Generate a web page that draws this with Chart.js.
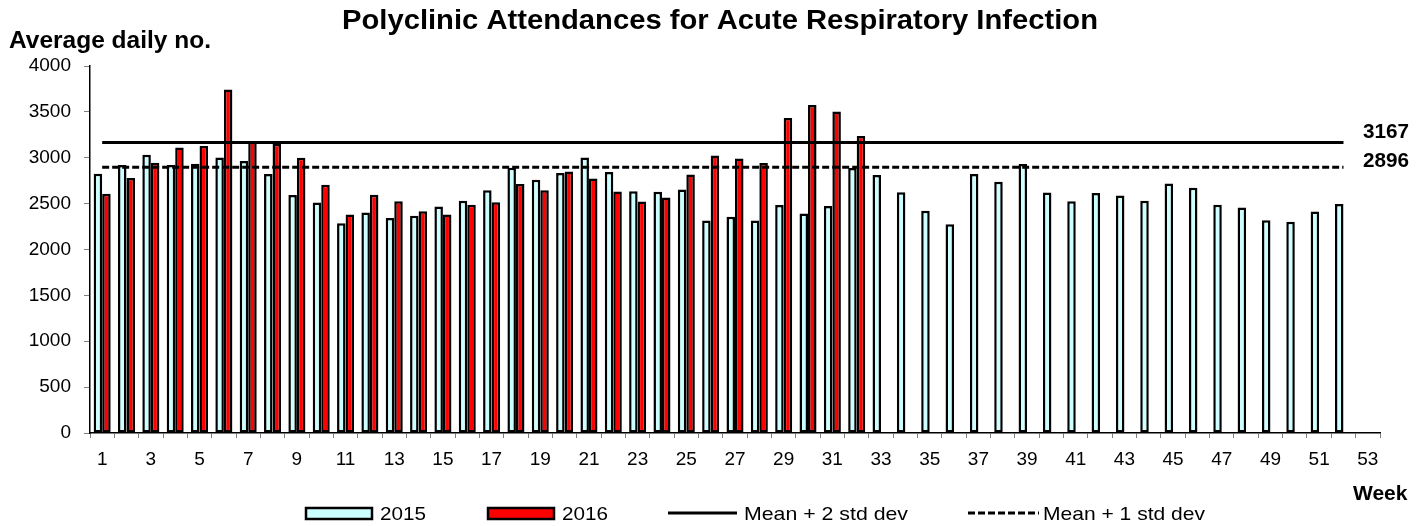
<!DOCTYPE html>
<html>
<head>
<meta charset="utf-8">
<script src="https://cdn.jsdelivr.net/npm/chart.js@4/dist/chart.umd.min.js"></script>
<style>
  html, body { margin: 0; padding: 0; background: #fff; }
  #wrap { position: relative; width: 1424px; height: 526px; }
</style>
</head>
<body>
<div id="wrap"><canvas id="chart"></canvas></div>
<script>
const weeks = ['1','2','3','4','5','6','7','8','9','10','11','12','13','14','15','16','17','18','19','20',
  '21','22','23','24','25','26','27','28','29','30','31','32','33','34','35','36','37','38','39','40',
  '41','42','43','44','45','46','47','48','49','50','51','52','53'];

const attend2015 = [2825, 2920, 3033, 2920, 2935, 3004, 2964, 2822, 2593, 2513,
  2287, 2404, 2342, 2367, 2469, 2531, 2647, 2891, 2760, 2833,
  3004, 2844, 2636, 2629, 2655, 2316, 2356, 2316, 2484, 2393,
  2473, 2887, 2811, 2625, 2422, 2276, 2822, 2738, 2931, 2622,
  2527, 2615, 2589, 2531, 2720, 2673, 2487, 2458, 2320, 2302,
  2415, 2495];

const attend2016 = [2607, 2778, 2945, 3113, 3127, 3745, 3178, 3153, 3000, 2705,
  2382, 2596, 2527, 2418, 2382, 2487, 2516, 2713, 2647, 2851,
  2775, 2633, 2524, 2567, 2818, 3025, 2993, 2942, 3433, 3575,
  3505, 3236];

const MEAN_PLUS_2SD = 3167;
const MEAN_PLUS_1SD = 2896;
const lineStart = '1';
const lineEnd = '52';

const yTicksMax = 4000;
const yTickStep = 500;

const FONT = '"Liberation Sans", Arial, sans-serif';

// draw text squeezed/stretched to a given width (the original image is a bit wide)
function fitText(ctx, text, x, y, width) {
  const w = ctx.measureText(text).width;
  ctx.save();
  ctx.translate(x, y);
  if (width) ctx.scale(width / w, 1);
  ctx.fillText(text, 0, 0);
  ctx.restore();
}

// titles, threshold labels and the legend
const decor = {
  id: 'decor',
  afterDraw(chart) {
    const ctx = chart.ctx;
    const y = chart.scales.y;
    ctx.save();
    ctx.fillStyle = '#000';
    ctx.textBaseline = 'alphabetic';
    ctx.textAlign = 'left';

    ctx.font = 'bold 27px ' + FONT;
    fitText(ctx, 'Polyclinic Attendances for Acute Respiratory Infection', 342, 28.5, 756);

    ctx.font = 'bold 24px ' + FONT;
    fitText(ctx, 'Average daily no.', 9, 48, 202);

    ctx.font = 'bold 21px ' + FONT;
    fitText(ctx, 'Week', 1353, 500);

    ctx.font = 'bold 20px ' + FONT;
    fitText(ctx, String(MEAN_PLUS_2SD), 1363, y.getPixelForValue(MEAN_PLUS_2SD) - 4, 46);
    fitText(ctx, String(MEAN_PLUS_1SD), 1363, y.getPixelForValue(MEAN_PLUS_1SD) - 0.5, 46);

    // legend
    const ly = 513;
    ctx.lineWidth = 2.5;
    ctx.strokeStyle = '#000';

    ctx.fillStyle = '#CCFFFF';
    ctx.fillRect(306, ly - 5, 66, 11);
    ctx.strokeRect(306, ly - 5, 66, 11);
    ctx.fillStyle = '#FF0000';
    ctx.fillRect(488, ly - 5, 66, 11);
    ctx.strokeRect(488, ly - 5, 66, 11);

    ctx.fillStyle = '#000';
    ctx.font = '19px ' + FONT;
    fitText(ctx, '2015', 380, 519.5, 46);
    fitText(ctx, '2016', 562, 519.5, 46);

    ctx.lineWidth = 3;
    ctx.beginPath();
    ctx.moveTo(668, ly);
    ctx.lineTo(737, ly);
    ctx.stroke();
    fitText(ctx, 'Mean + 2 std dev', 744, 519.5, 164);

    ctx.setLineDash([7, 3]);
    ctx.beginPath();
    ctx.moveTo(968, ly);
    ctx.lineTo(1039, ly);
    ctx.stroke();
    ctx.setLineDash([]);
    fitText(ctx, 'Mean + 1 std dev', 1043, 519.5, 162);

    ctx.restore();
  }
};

new Chart(document.getElementById('chart'), {
  type: 'bar',
  data: {
    labels: weeks,
    datasets: [
      {
        type: 'line',
        label: 'Mean + 2 std dev',
        data: [{ x: lineStart, y: MEAN_PLUS_2SD }, { x: lineEnd, y: MEAN_PLUS_2SD }],
        borderColor: '#000',
        borderWidth: 3,
        pointRadius: 0,
        order: 0,
      },
      {
        type: 'line',
        label: 'Mean + 1 std dev',
        data: [{ x: lineStart, y: MEAN_PLUS_1SD }, { x: lineEnd, y: MEAN_PLUS_1SD }],
        borderColor: '#000',
        borderWidth: 3,
        borderDash: [7, 3],
        pointRadius: 0,
        order: 0,
      },
      {
        label: '2015',
        data: attend2015,
        backgroundColor: '#CCFFFF',
        borderColor: '#000',
        borderWidth: 2.5,
        borderSkipped: false,
        categoryPercentage: 0.7,
        barPercentage: 1.0,
        order: 1,
      },
      {
        label: '2016',
        data: attend2016,
        backgroundColor: '#FF0000',
        borderColor: '#000',
        borderWidth: 2.5,
        borderSkipped: false,
        categoryPercentage: 0.7,
        barPercentage: 1.0,
        order: 1,
      },
    ],
  },
  options: {
    responsive: true,
    maintainAspectRatio: false,
    animation: false,
    layout: {
      padding: { left: 0, right: 44, top: 66, bottom: 0 },
    },
    scales: {
      x: {
        grid: {
          offset: true,
          drawOnChartArea: false,
          tickLength: 5,
          color: '#808080',
        },
        border: { color: '#000', width: 1.5 },
        ticks: {
          autoSkip: false,
          maxRotation: 0,
          padding: 10,
          color: '#000',
          font: { family: FONT, size: 19 },
          callback: function (value, index) {
            return index % 2 === 0 ? this.getLabelForValue(value) : '';
          },
        },
        afterFit: (scale) => { scale.height = 93; },
      },
      y: {
        min: 0,
        max: yTicksMax,
        grid: {
          drawOnChartArea: false,
          tickLength: 6,
          color: '#808080',
        },
        border: { color: '#000', width: 1.5 },
        ticks: {
          stepSize: yTickStep,
          padding: 13,
          color: '#000',
          font: { family: FONT, size: 19 },
          callback: (value) => String(value),
        },
        afterFit: (scale) => { scale.width = 90; },
      },
    },
    plugins: {
      legend: { display: false },
      title: { display: false },
      tooltip: { enabled: false },
    },
  },
  plugins: [decor],
});
</script>
</body>
</html>
